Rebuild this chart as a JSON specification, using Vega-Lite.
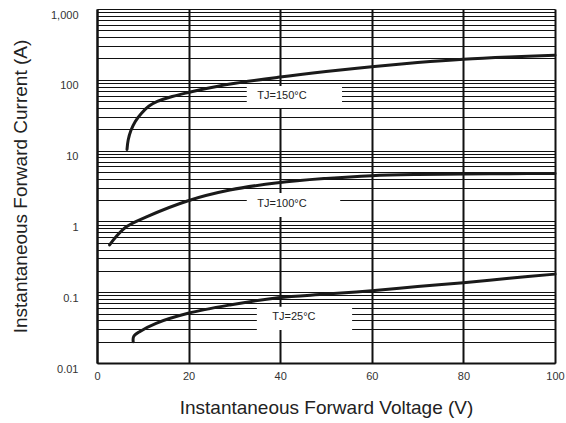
{
  "$schema": "https://vega.github.io/schema/vega-lite/v6.json",
  "width": 458,
  "height": 354,
  "autosize": {"type": "none"},
  "padding": {"left": 97, "top": 9, "right": 11, "bottom": 60},
  "background": "white",
  "config": {
    "view": {"stroke": null},
    "font": "Liberation Sans"
  },
  "datasets": {
    "curves": [
      {"series": "150", "v": 6.55, "i": 10.4},
      {"series": "150", "v": 6.81, "i": 14.1},
      {"series": "150", "v": 7.4, "i": 19.2},
      {"series": "150", "v": 8.36, "i": 25.8},
      {"series": "150", "v": 9.67, "i": 33.5},
      {"series": "150", "v": 11.29, "i": 42.3},
      {"series": "150", "v": 13.17, "i": 49.4},
      {"series": "150", "v": 16.44, "i": 58.1},
      {"series": "150", "v": 19.93, "i": 66.2},
      {"series": "150", "v": 22.55, "i": 72.3},
      {"series": "150", "v": 29.1, "i": 87.2},
      {"series": "150", "v": 39.5, "i": 108.5},
      {"series": "150", "v": 50, "i": 131},
      {"series": "150", "v": 60, "i": 153},
      {"series": "150", "v": 70, "i": 175},
      {"series": "150", "v": 80, "i": 195},
      {"series": "150", "v": 90, "i": 210},
      {"series": "150", "v": 100, "i": 222},
      {"series": "100", "v": 2.75, "i": 0.465},
      {"series": "100", "v": 4.2, "i": 0.61},
      {"series": "100", "v": 6.4, "i": 0.84},
      {"series": "100", "v": 10.8, "i": 1.16},
      {"series": "100", "v": 19.9, "i": 1.96},
      {"series": "100", "v": 29, "i": 2.77},
      {"series": "100", "v": 39.5, "i": 3.52},
      {"series": "100", "v": 50, "i": 4.05},
      {"series": "100", "v": 60, "i": 4.43},
      {"series": "100", "v": 70, "i": 4.6},
      {"series": "100", "v": 80, "i": 4.67},
      {"series": "100", "v": 90, "i": 4.72},
      {"series": "100", "v": 100, "i": 4.75},
      {"series": "25", "v": 7.9, "i": 0.02},
      {"series": "25", "v": 8.0, "i": 0.0236},
      {"series": "25", "v": 9.3, "i": 0.0277},
      {"series": "25", "v": 12.9, "i": 0.0364},
      {"series": "25", "v": 19.9, "i": 0.0504},
      {"series": "25", "v": 29, "i": 0.066},
      {"series": "25", "v": 39.5, "i": 0.0835},
      {"series": "25", "v": 50, "i": 0.094},
      {"series": "25", "v": 60, "i": 0.105},
      {"series": "25", "v": 70, "i": 0.12},
      {"series": "25", "v": 80, "i": 0.136},
      {"series": "25", "v": 90, "i": 0.157},
      {"series": "25", "v": 100, "i": 0.18}
    ],
    "labels": [
      {"text": "TJ=150°C", "x1": 32.7, "x2": 53.5, "y1": 40, "y2": 82, "tx": 40.4, "ty": 59},
      {"text": "TJ=100°C", "x1": 32.7, "x2": 53.1, "y1": 1.15, "y2": 2.52, "tx": 40.4, "ty": 1.76},
      {"text": "TJ=25°C", "x1": 34.9, "x2": 55.7, "y1": 0.0292, "y2": 0.0624, "tx": 43.0, "ty": 0.045}
    ]
  },
  "layer": [
    {
      "data": {"name": "labels"},
      "mark": {"type": "rect", "fill": "white", "stroke": null},
      "encoding": {
        "x": {
          "field": "x1", "type": "quantitative",
          "scale": {"domain": [0, 100], "nice": false, "zero": false},
          "axis": {
            "values": [0, 20, 40, 60, 80, 100],
            "grid": true, "gridColor": "#111", "gridWidth": 2, "gridOpacity": 1,
            "ticks": false, "tickSize": 0,
            "domain": true, "domainColor": "#111", "domainWidth": 2,
            "labelFont": "Liberation Sans", "labelFontSize": 11, "labelColor": "#333",
            "labelPadding": 7, "labelFlush": false,
            "title": "Instantaneous Forward Voltage (V)",
            "titleFont": "Liberation Sans", "titleFontSize": 19, "titleFontWeight": "normal",
            "titleColor": "#222", "titlePadding": 17
          }
        },
        "x2": {"field": "x2"},
        "y": {
          "field": "y1", "type": "quantitative",
          "scale": {"type": "log", "domain": [0.01, 1000], "nice": false},
          "axis": {
            "values": [0.01, 0.02, 0.03, 0.04, 0.05, 0.06, 0.07, 0.08, 0.09,
                       0.1, 0.2, 0.3, 0.4, 0.5, 0.6, 0.7, 0.8, 0.9,
                       1, 2, 3, 4, 5, 6, 7, 8, 9,
                       10, 20, 30, 40, 50, 60, 70, 80, 90,
                       100, 200, 300, 400, 500, 600, 700, 800, 900, 1000],
            "labelExpr": "indexof([0.01, 0.1, 1, 10, 100, 1000], datum.value) >= 0 ? format(datum.value, ',') : ''",
            "labelOverlap": false,
            "grid": true, "gridColor": "#111", "gridWidth": 1.2, "gridOpacity": 1,
            "ticks": false, "tickSize": 0,
            "domain": true, "domainColor": "#111", "domainWidth": 2,
            "labelFont": "Liberation Sans", "labelFontSize": 11, "labelColor": "#333",
            "labelPadding": 19, "labelBaseline": "top",
            "title": "Instantaneous Forward Current (A)",
            "titleFont": "Liberation Sans", "titleFontSize": 19, "titleFontWeight": "normal",
            "titleColor": "#222", "titlePadding": 20
          }
        },
        "y2": {"field": "y2"}
      }
    },
    {
      "data": {"name": "labels"},
      "mark": {"type": "text", "font": "Liberation Sans", "fontSize": 11, "color": "#222", "align": "center", "baseline": "middle"},
      "encoding": {
        "x": {"field": "tx", "type": "quantitative"},
        "y": {"field": "ty", "type": "quantitative"},
        "text": {"field": "text"}
      }
    },
    {
      "data": {"name": "curves"},
      "mark": {"type": "line", "color": "#1a1a1a", "strokeWidth": 3, "interpolate": "catmull-rom", "strokeCap": "round"},
      "encoding": {
        "x": {"field": "v", "type": "quantitative"},
        "y": {"field": "i", "type": "quantitative"},
        "detail": {"field": "series"}
      }
    }
  ]
}
